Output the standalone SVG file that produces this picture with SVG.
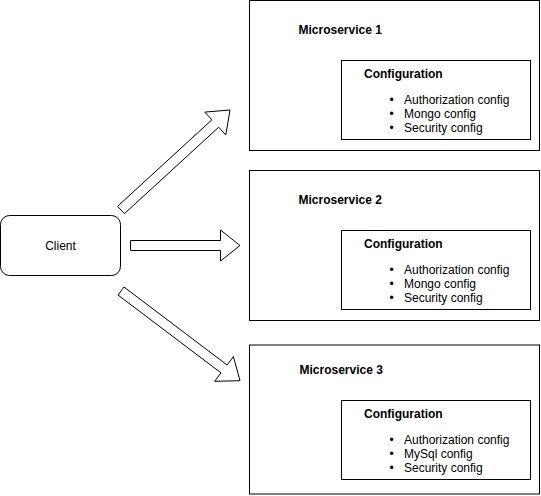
<svg xmlns="http://www.w3.org/2000/svg" width="541" height="496" viewBox="0 0 541 496">
<style>
.box{fill:#fff;stroke:#000;stroke-width:1}
.arrow{fill:#fff;stroke:#000;stroke-width:1;stroke-linejoin:miter}
text{font-family:"Liberation Sans",Arial,sans-serif;font-size:12px;fill:#000}
.b{font-weight:bold}
</style>
<rect width="541" height="496" fill="#fff"/>
<g id="connectors">
<polygon class="arrow" points="117.6,206.3 211.9,119.8 204.8,112.1 230,110 225.8,134.9 218.7,127.2 124.4,213.7"/>
<polygon class="arrow" points="130.5,240.5 220.5,240.5 220.5,230 240,245.5 220.5,261 220.5,250.5 130.5,250.5"/>
<polygon class="arrow" points="124,287 227.1,365 233.4,356.6 240,380.7 214.7,381.3 221,372.9 118,295"/>
</g>
<g id="client">
<rect class="box" x="0.5" y="215.5" width="120" height="60" rx="9" ry="9"/>
<text x="60.5" y="249.5" text-anchor="middle">Client</text>
</g>
<g id="ms1">
<rect class="box" x="249.5" y="0.5" width="290" height="150"/>
<text class="b" x="298.5" y="34">Microservice 1</text>
<g id="ms1-config">
<rect class="box" x="341.5" y="60.5" width="189" height="79"/>
<text class="b" x="364" y="78">Configuration</text>
<text x="389.5" y="104">•</text><text x="404" y="104">Authorization config</text>
<text x="389.5" y="118">•</text><text x="404" y="118">Mongo config</text>
<text x="389.5" y="132">•</text><text x="404" y="132">Security config</text>
</g>
</g>
<g id="ms2">
<rect class="box" x="249.5" y="170.5" width="290" height="150"/>
<text class="b" x="298.5" y="204">Microservice 2</text>
<g id="ms2-config">
<rect class="box" x="341.5" y="230.5" width="189" height="79"/>
<text class="b" x="364" y="248">Configuration</text>
<text x="389.5" y="274">•</text><text x="404" y="274">Authorization config</text>
<text x="389.5" y="288">•</text><text x="404" y="288">Mongo config</text>
<text x="389.5" y="302">•</text><text x="404" y="302">Security config</text>
</g>
</g>
<g id="ms3">
<rect class="box" x="249.5" y="345" width="290" height="149"/>
<text class="b" x="299.5" y="374">Microservice 3</text>
<g id="ms3-config">
<rect class="box" x="341.5" y="400.5" width="189" height="79"/>
<text class="b" x="364" y="418">Configuration</text>
<text x="389.5" y="444">•</text><text x="404" y="444">Authorization config</text>
<text x="389.5" y="458">•</text><text x="404" y="458">MySql config</text>
<text x="389.5" y="472">•</text><text x="404" y="472">Security config</text>
</g>
</g>
</svg>
